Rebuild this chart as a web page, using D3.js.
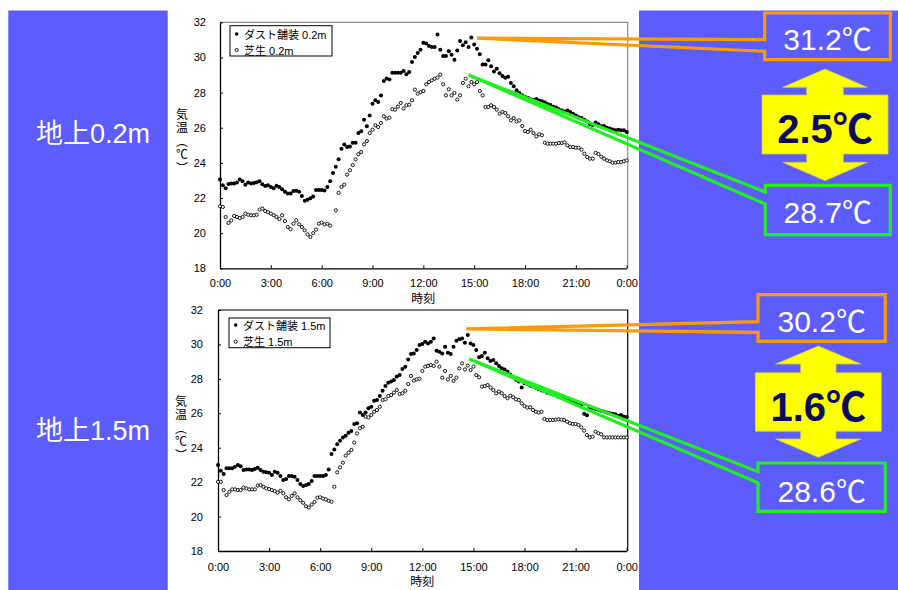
<!DOCTYPE html>
<html><head><meta charset="utf-8">
<script src="https://cdn.jsdelivr.net/npm/d3@7"></script>
<style>html,body{margin:0;padding:0;background:#fff;}svg{display:block;}</style>
</head><body>
<svg id="c" width="898" height="590"></svg>
<script>
// ---- data (10-minute readings, 0:00 .. 24:00) ----
const minutes = d3.range(0, 1441, 10);
const dust02 = [
23.05,22.72,22.55,22.80,22.82,22.82, 22.88,23.05,22.95,22.75,22.88,22.82,
22.85,22.90,22.95,22.78,22.68,22.72, 22.62,22.55,22.70,22.62,22.50,22.35,
22.25,22.25,22.40,22.42,22.35,22.12, 21.85,21.90,21.98,22.08,22.45,22.45,
22.45,22.43,22.62,22.95,23.43,23.78, 24.20,24.81,25.04,24.90,24.93,25.15,
25.15,25.70,25.80,26.45,26.08,26.70, 27.37,27.56,27.46,27.84,28.66,28.80,
28.74,29.13,29.13,29.13,29.13,29.23, 29.04,29.17,29.74,30.03,30.25,30.44,
30.84,30.79,30.65,30.60,30.60,31.30, 30.44,30.08,30.08,30.35,30.16,29.87,
30.40,30.94,30.70,30.86,30.60,31.13, 30.73,30.50,30.18,29.60,29.60,29.84,
29.50,29.20,29.36,29.10,28.95,28.85, 28.90,28.55,28.36,28.13,27.98,27.85,
27.75,27.70,27.62,27.58,27.64,27.55, 27.50,27.45,27.35,27.30,27.20,27.15,
27.05,26.98,26.92,26.98,26.90,26.80, 26.70,26.60,26.55,26.45,26.35,26.20,
26.15,26.30,26.20,26.08,26.10,26.00, 25.95,25.90,25.85,25.88,25.85,25.85,
25.75];
const grass02 = [
21.53,21.49,20.92,20.58,20.73,20.98, 20.92,20.86,20.92,21.11,21.05,21.02,
21.02,21.05,21.34,21.40,21.26,21.19, 21.11,21.02,20.92,20.80,21.02,20.69,
20.35,20.22,20.54,20.73,20.50,20.35, 20.16,19.93,19.78,20.00,20.20,20.54,
20.60,20.50,20.54,20.43,null,21.30, 22.29,22.63,22.76,23.33,23.58,23.87,
24.20,24.49,24.62,25.05,25.24,25.70, 25.89,26.14,26.04,26.27,26.65,26.52,
26.57,27.05,27.03,27.20,27.41,27.09, 27.28,27.31,27.56,28.17,27.94,28.03,
28.09,28.47,28.60,28.70,28.79,28.85, 29.02,28.47,27.84,28.19,27.84,27.98,
27.60,27.84,28.55,28.79,28.36,28.60, 28.47,28.60,28.09,27.84,27.18,27.18,
27.28,27.18,27.03,26.80,26.90,26.84, 26.65,26.42,26.55,26.36,26.42,26.10,
25.81,25.76,25.89,25.70,25.51,25.62, 25.57,25.15,25.09,25.09,25.09,25.09,
25.13,25.13,25.17,25.00,24.90,24.90, 24.86,24.86,24.75,24.52,24.33,24.24,
24.24,24.57,24.50,24.35,24.24,24.14, 24.09,24.01,24.01,24.05,24.05,24.09,
24.14];
const dust15 = [
22.99,22.66,22.47,22.80,22.80,22.80, 22.90,22.99,22.93,22.70,22.74,22.74,
22.70,22.76,22.84,22.70,22.61,22.57, 22.55,22.41,22.61,22.55,22.36,22.12,
22.18,22.36,22.36,22.32,22.12,21.89, 21.77,21.83,21.89,22.06,22.36,22.36,
22.36,22.36,22.41,22.74,23.63,23.90, 24.20,24.40,24.60,24.70,24.87,24.97,
25.38,25.42,26.05,25.90,26.04,26.29, 26.38,26.73,26.77,27.00,27.31,27.58,
27.78,27.84,27.93,28.13,28.22,28.57, 28.71,29.13,29.44,29.48,29.68,29.97,
30.03,30.16,30.06,30.16,30.35,29.64, 29.58,29.48,29.87,29.52,29.44,29.87,
30.22,30.30,30.35,30.10,30.55,30.06, 29.97,29.68,29.25,29.33,29.52,29.19,
29.04,29.10,28.90,28.75,28.61,28.55, 28.42,28.25,28.10,27.95,27.85,27.50,
27.75,27.70,27.60,27.55,27.48,27.40, 27.32,27.30,27.20,27.15,27.10,27.05,
27.00,26.95,26.90,26.85,26.80,26.72, 26.65,26.60,26.50,25.98,25.88,26.35,
26.30,26.25,26.20,26.15,26.10,26.05, 26.00,25.98,25.95,25.85,25.90,25.82,
25.78];
const grass15 = [
22.02,22.02,21.54,21.25,21.44,21.58, 21.58,21.54,21.54,21.68,21.64,21.58,
21.58,21.58,21.80,21.83,21.73,21.64, 21.60,21.54,21.48,21.39,21.50,21.35,
21.12,21.00,21.20,21.35,21.12,20.95, 20.80,20.60,20.53,20.70,20.85,21.10,
21.12,21.05,21.00,20.92,20.86,21.73, 22.57,22.86,23.13,23.54,23.71,23.87,
24.30,24.83,25.13,25.22,25.80,25.76, 25.90,26.09,26.19,26.38,26.77,26.81,
27.00,27.06,27.20,27.35,27.12,27.16, 27.31,27.70,28.17,27.90,27.97,28.01,
28.46,28.71,28.75,28.80,28.75,29.00, 28.71,28.07,28.46,27.97,28.17,27.88,
28.07,28.61,28.90,28.55,28.77,28.51, 28.71,28.22,28.09,27.55,27.58,27.64,
27.50,27.35,27.16,27.26,27.16,27.00, 26.87,27.02,26.93,26.81,26.77,26.58,
26.42,26.33,26.35,26.19,26.09,26.04, 26.09,25.67,25.61,25.61,25.61,25.63,
25.65,25.63,25.61,25.51,25.42,25.38, 25.38,25.32,25.18,24.99,24.74,24.60,
24.64,24.93,24.84,24.78,24.60,24.60, 24.60,24.60,24.60,24.60,24.60,24.60,
24.60];

const yTicks = [18,20,22,24,26,28,30,32];
const xTickMinutes = [0,180,360,540,720,900,1080,1260,1440];
const xTickLabels = ["0:00","3:00","6:00","9:00","12:00","15:00","18:00","21:00","0:00"];
const legendDust = ["ダスト舗装 0.2m","ダスト舗装 1.5m"];
const legendGrass = ["芝生 0.2m","芝生 1.5m"];
const panelLabels = ["地上0.2m","地上1.5m"];
const peakLabels = ["31.2℃","30.2℃"];
const grassLabels = ["28.7℃","28.6℃"];
const diffLabels = ["2.5℃","1.6℃"];
const peakTips = [[910,31.1],[875,30.9]];     // [minute, °C]
const grassTips = [[880,29.0],[885,29.15]];   // [minute, °C]
const yTitle = "気温（℃）";
const xTitle = "時刻";

// ---- layout ----
const LAT = "'Liberation Sans','Noto Sans CJK JP',sans-serif";
const CJK = "'Noto Sans CJK JP','Liberation Sans',sans-serif";
const BLUE = "#5c5cff", ORANGE = "#ff9a00", GREEN = "#22ee22";
const charts = [
  {dust:dust02, grass:grass02, x0:220, x1:626.7, yT:22.3, yB:268.3, frame:"#8c8c8c",
   yPad:14, xPad:11, titleX:182, titleY:108, xTitleY:303,
   leg:{x:230,y:25.7,w:102,h:30.3,r1:34,b1:38.8,r2:50,b2:54.5},
   label:{x:36,y:143},
   ob:{l:764.7,r:890.3,t:13,b:59.7,a1:39.7,a2:51.3,tx:827.5,ty:50},
   gb:{l:765.3,r:890.3,t:185.3,b:234.7,a1:192,a2:204,tx:827.8,ty:223},
   ar:{cx:825,t1:69,h1:87.3,rs:95,re:154,h2:162.3,t2:180.7,hw:42.3,sw:18.3,rw:63,ty:143.3}},
  {dust:dust15, grass:grass15, x0:218, x1:626.7, yT:310, yB:551, frame:"#000",
   yPad:15, xPad:12.5, titleX:181, titleY:395, xTitleY:586,
   leg:{x:229,y:318,w:101,h:29.7,r1:325,b1:329.5,r2:341.7,b2:346},
   label:{x:36,y:440},
   ob:{l:758,r:885.3,t:294.7,b:341.3,a1:321.7,a2:332.3,tx:821.7,ty:332.3},
   gb:{l:758,r:885.3,t:463,b:511.3,a1:471.7,a2:482.7,tx:821.7,ty:501.7},
   ar:{cx:818.3,t1:346,h1:364,rs:372.7,re:431.3,h2:439,t2:457.3,hw:42.6,sw:17.7,rw:63,ty:421}}
];

const svg = d3.select("#c");
svg.append("rect").attr("width",898).attr("height",590).attr("fill","#fff");
// blue panels
svg.append("rect").attr("x",8.3).attr("y",10.5).attr("width",159.4).attr("height",579.5).attr("fill",BLUE);
svg.append("rect").attr("x",639).attr("y",10.5).attr("width",259).attr("height",579.5).attr("fill",BLUE);

charts.forEach((c, k) => {
  const x = d3.scaleLinear().domain([0,1440]).range([c.x0, c.x1]);
  const y = d3.scaleLinear().domain([18,32]).range([c.yB, c.yT]);
  const g = svg.append("g");

  // frame (top and right)
  g.append("path").attr("d", `M${c.x0},${c.yT}H${c.x1+1}V${c.yB}`)
    .attr("fill","none").attr("stroke",c.frame).attr("stroke-width",1.2);

  // axes
  const ya = g.append("g").attr("transform",`translate(${c.x0},0)`)
    .call(d3.axisLeft(y).tickValues(yTicks).tickFormat(d3.format("d"))
      .tickSizeInner(-3).tickSizeOuter(0).tickPadding(c.yPad));
  const xa = g.append("g").attr("transform",`translate(0,${c.yB})`)
    .call(d3.axisBottom(x).tickValues(xTickMinutes).tickFormat((d,i)=>xTickLabels[i])
      .tickSizeInner(-3).tickSizeOuter(0).tickPadding(c.xPad));
  [ya, xa].forEach(a => {
    a.select(".domain").attr("stroke","#000").attr("stroke-width",1.3);
    a.selectAll(".tick line").attr("stroke","#000").attr("stroke-width",1);
    a.selectAll("text").attr("font-family",LAT).attr("font-size",11).attr("fill","#000");
  });

  // axis titles
  g.append("text").attr("x", c.titleX).attr("y", c.titleY)
    .attr("writing-mode","vertical-rl").attr("letter-spacing",1.5)
    .attr("font-family",CJK).attr("font-size",12).attr("fill","#000").text(yTitle);
  g.append("text").attr("x", x(720)).attr("y", c.xTitleY).attr("text-anchor","middle")
    .attr("font-family",CJK).attr("font-size",12).attr("fill","#000").text(xTitle);

  // points
  const pts = (arr) => minutes.map((m,i)=>({m, v:arr[i]})).filter(d => d.v != null);
  g.append("g").selectAll("circle").data(pts(c.grass)).join("circle")
    .attr("cx", d=>x(d.m)).attr("cy", d=>y(d.v)).attr("r",1.6)
    .attr("fill","#fff").attr("stroke","#000").attr("stroke-width",0.9);
  g.append("g").selectAll("circle").data(pts(c.dust)).join("circle")
    .attr("cx", d=>x(d.m)).attr("cy", d=>y(d.v)).attr("r",2)
    .attr("fill","#000");

  // legend
  const L = c.leg;
  g.append("rect").attr("x",L.x).attr("y",L.y).attr("width",L.w).attr("height",L.h)
    .attr("fill","#fff").attr("stroke","#000").attr("stroke-width",1);
  g.append("circle").attr("cx",L.x+6.7).attr("cy",L.r1).attr("r",1.8).attr("fill","#000");
  g.append("circle").attr("cx",L.x+6.7).attr("cy",L.r2).attr("r",1.6)
    .attr("fill","#fff").attr("stroke","#000").attr("stroke-width",0.9);
  g.append("text").attr("x",L.x+14).attr("y",L.b1).attr("font-family",LAT).attr("font-size",11)
    .attr("fill","#000").text(legendDust[k]);
  g.append("text").attr("x",L.x+14).attr("y",L.b2).attr("font-family",LAT).attr("font-size",11)
    .attr("fill","#000").text(legendGrass[k]);

  // left label
  svg.append("text").attr("x",c.label.x).attr("y",c.label.y).attr("font-family",LAT)
    .attr("font-size",27).attr("fill","#fff").text(panelLabels[k]);

  // callouts
  const callout = (b, tip, color) => {
    const tx = x(tip[0]), ty = y(tip[1]);
    const p = d3.path();
    p.moveTo(tx, ty); p.lineTo(b.l, b.a1); p.lineTo(b.l, b.t); p.lineTo(b.r, b.t);
    p.lineTo(b.r, b.b); p.lineTo(b.l, b.b); p.lineTo(b.l, b.a2); p.closePath();
    svg.append("path").attr("d", p.toString()).attr("fill","none")
      .attr("stroke", color).attr("stroke-width", 3.2).attr("stroke-linejoin","miter")
      .attr("stroke-miterlimit", 4);
  };
  callout(c.ob, peakTips[k], ORANGE);
  callout(c.gb, grassTips[k], GREEN);
  svg.append("text").attr("x",c.ob.tx).attr("y",c.ob.ty).attr("text-anchor","middle")
    .attr("font-family",LAT).attr("font-size",30).attr("fill","#fff").text(peakLabels[k]);
  svg.append("text").attr("x",c.gb.tx).attr("y",c.gb.ty).attr("text-anchor","middle")
    .attr("font-family",LAT).attr("font-size",30).attr("fill","#fff").text(grassLabels[k]);

  // double arrow
  const a = c.ar;
  const poly = [
    [a.cx, a.t1], [a.cx+a.hw, a.h1], [a.cx+a.sw, a.h1], [a.cx+a.sw, a.rs],
    [a.cx+a.rw, a.rs], [a.cx+a.rw, a.re], [a.cx+a.sw, a.re], [a.cx+a.sw, a.h2],
    [a.cx+a.hw, a.h2], [a.cx, a.t2], [a.cx-a.hw, a.h2], [a.cx-a.sw, a.h2],
    [a.cx-a.sw, a.re], [a.cx-a.rw, a.re], [a.cx-a.rw, a.rs], [a.cx-a.sw, a.rs],
    [a.cx-a.sw, a.h1], [a.cx-a.hw, a.h1]
  ];
  svg.append("polygon").attr("points", poly.map(p=>p.join(",")).join(" "))
    .attr("fill","#ffff00").attr("stroke","#c9c94a").attr("stroke-width",0.8);
  svg.append("text").attr("x",a.cx).attr("y",a.ty).attr("text-anchor","middle")
    .attr("font-family",LAT).attr("font-weight","bold").attr("font-size",40)
    .attr("fill","#0b0b5c").text(diffLabels[k]);
});
</script>
</body></html>
